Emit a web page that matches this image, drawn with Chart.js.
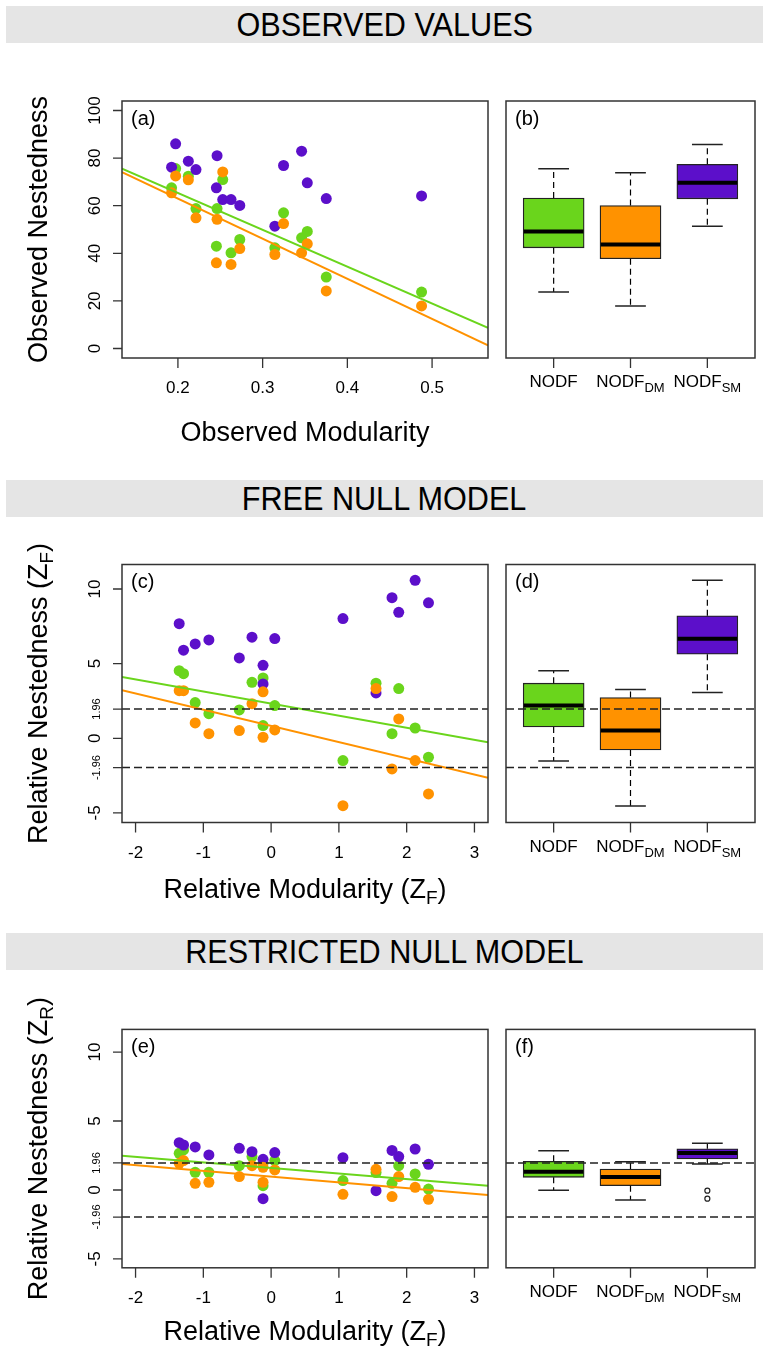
<!DOCTYPE html>
<html><head><meta charset="utf-8">
<script src="https://cdn.jsdelivr.net/npm/chart.js@4.4.1/dist/chart.umd.min.js"></script>
<style>
html,body{margin:0;padding:0;background:#fff;}
#wrap{position:relative;width:768px;height:1347px;overflow:hidden;background:#fff;}
canvas{position:absolute;left:0;top:0;}
.hdr{position:absolute;left:6px;width:757px;height:37px;background:#e5e5e5;display:flex;align-items:center;justify-content:center;}
.hdr span{font-family:"Liberation Sans",Arial,sans-serif;font-size:34px;color:#000;display:inline-block;transform:scaleX(0.9);line-height:37px;}
</style></head>
<body><div id="wrap">
<div class="hdr" style="top:6px"><span>OBSERVED VALUES</span></div>
<div class="hdr" style="top:480px"><span>FREE NULL MODEL</span></div>
<div class="hdr" style="top:933px"><span>RESTRICTED NULL MODEL</span></div>
</div>
<script>
// ---------------- DATA ----------------
// Panel (a): observed modularity vs observed nestedness (15 networks)
const obsModularity = [0.1925,0.1973,0.2123,0.2213,0.2454,0.2462,0.2529,0.2627,0.2730,0.3144,0.3247,0.3460,0.3527,0.3751,0.4876];
const obsNODF   = [67.5,75.6,72.4,58.8,43.0,58.8,71.0,40.2,45.8,42.3,57.0,46.5,49.2,30.0,23.7];
const obsNODFdm = [65.4,72.5,70.9,54.9,36.0,54.3,74.2,35.3,42.0,39.5,52.5,40.2,44.0,24.2,17.9];
const obsNODFsm = [76.2,86.0,78.7,75.2,67.5,81.0,62.6,62.6,60.1,51.4,76.9,82.9,69.6,63.0,64.1];
// fitted lines (a): values at the two x-limits
const fitXa = [0.134,0.566];
const fitNODFa = [75.6,8.7];
const fitNODFdmA = [74.1,1.3];

// Panel (c): free null model Z-scores
const relModF = [-1.356,-1.292,-1.120,-0.918,-0.469,-0.282,-0.119,-0.119,0.054,1.060,1.548,1.784,1.883,2.125,2.322];
const zfNODF   = [4.53,4.33,2.39,1.65,1.90,3.75,4.04,0.85,2.19,-1.49,3.69,0.31,3.33,0.69,-1.27];
const zfNODFdm = [3.19,3.19,1.03,0.31,0.52,2.32,3.11,0.07,0.56,-4.51,3.33,-2.05,1.30,-1.49,-3.73];
const zfNODFsm = [7.68,5.90,6.32,6.59,5.38,6.77,4.89,3.64,6.68,8.02,3.04,9.42,8.44,10.58,9.07];
const fitXz = [-2.2,3.2];
const fitNODFc = [4.11,-0.27];
const fitNODFdmC = [3.22,-2.65];

// Panel (e): restricted null model Z-scores
const zrNODF   = [2.66,2.90,1.28,1.28,1.76,2.42,0.31,1.93,2.13,0.68,1.26,0.48,1.76,1.16,0.07];
const zrNODFdm = [1.93,2.13,0.48,0.56,0.97,1.76,1.64,0.56,1.45,-0.31,1.50,-0.48,0.97,0.19,-0.68];
const zrNODFsm = [3.43,3.26,3.12,2.54,3.02,2.78,2.22,-0.63,2.71,2.34,-0.05,2.87,2.42,2.97,1.86];
const fitNODFe = [2.49,0.31];
const fitNODFdmE = [1.88,-0.36];

// Box plot statistics [lowWhisker, Q1, median, Q3, highWhisker] for NODF, NODF_DM, NODF_SM
const boxB = [[23.7,42.3,49.2,63.2,75.5],[17.8,37.7,43.7,60.1,73.8],[51.4,62.9,69.6,77.4,85.7]];
const boxD = [[-1.52,0.76,2.19,3.69,4.53],[-4.53,-0.78,0.52,2.73,3.26],[3.06,5.63,6.66,8.20,10.58]];
const boxF = [[-0.02,0.92,1.33,2.08,2.85],[-0.72,0.31,0.94,1.52,2.05],[1.88,2.25,2.68,2.99,3.38]];
const outliersF = [[],[],[-0.05,-0.63]];

// tick labels
const yTicksObs = [0,20,40,60,80,100];
const xTicksObs = [0.2,0.3,0.4,0.5];
const yTicksZ = [-5,0,5,10];
const yTicksCrit = [-1.96,1.96];
const xTicksZ = [-2,-1,0,1,2,3];
const boxCats = [['NODF',''],['NODF','DM'],['NODF','SM']];

// ---------------- STYLE / LAYOUT ----------------
const W=768,H=1347;
const COL=['#6AD51C','#FF9200','#5C0FCA'];
const FONT='"Liberation Sans", Arial, sans-serif';
const rows={a:{t:101,b:358},c:{t:564.5,b:822.5},e:{t:1029.4,b:1267.8}};
const SL=122,SR=488,BL=506,BR=755;

const wrap=document.getElementById('wrap');
function makeCtx(){const c=document.createElement('canvas');c.width=W;c.height=H;c.style.width=W+'px';c.style.height=H+'px';wrap.appendChild(c);return c.getContext('2d');}

function drawRich(ctx,parts,x,y,rot){
  ctx.save();ctx.translate(x,y);if(rot)ctx.rotate(rot);
  let tot=0;parts.forEach(p=>{ctx.font=p.s+'px '+FONT;p.w=ctx.measureText(p.t).width;tot+=p.w;});
  let cx=-tot/2;ctx.textAlign='left';ctx.textBaseline='alphabetic';ctx.fillStyle='#000';
  parts.forEach(p=>{ctx.font=p.s+'px '+FONT;ctx.fillText(p.t,cx,p.dy||0);cx+=p.w;});
  ctx.restore();
}

function axisPlugin(o){
  return {
    id:'ax',
    afterDatasetsDraw(chart){
      const ctx=chart.ctx,a=chart.chartArea,x=chart.scales.x,y=chart.scales.y;
      if(o.box){
        o.box.forEach((st,i)=>{
          const cx=x.getPixelForValue(i+1);
          const half=(x.getPixelForValue(1.4)-x.getPixelForValue(1));
          const cap=half/2;
          ctx.save();ctx.strokeStyle='#000';ctx.lineWidth=1.2;
          ctx.setLineDash([6,4]);
          ctx.beginPath();ctx.moveTo(cx,y.getPixelForValue(st[3]));ctx.lineTo(cx,y.getPixelForValue(st[4]));
          ctx.moveTo(cx,y.getPixelForValue(st[1]));ctx.lineTo(cx,y.getPixelForValue(st[0]));ctx.stroke();
          ctx.setLineDash([]);ctx.lineWidth=1.5;ctx.strokeStyle='#222';
          ctx.beginPath();
          [st[0],st[4]].forEach(v=>{const py=y.getPixelForValue(v);ctx.moveTo(cx-cap,py);ctx.lineTo(cx+cap,py);});
          ctx.stroke();
          ctx.lineWidth=4;ctx.strokeStyle='#000';ctx.beginPath();
          const pm=y.getPixelForValue(st[2]);ctx.moveTo(cx-half+1,pm);ctx.lineTo(cx+half-1,pm);ctx.stroke();
          ctx.restore();
        });
      }
      if(o.ref){
        ctx.save();ctx.strokeStyle='#222';ctx.lineWidth=1.4;ctx.setLineDash([8,4]);
        o.ref.forEach(v=>{const py=y.getPixelForValue(v);ctx.beginPath();ctx.moveTo(a.left,py);ctx.lineTo(a.right,py);ctx.stroke();});
        ctx.restore();
      }
    },
    afterDraw(chart){
      const ctx=chart.ctx,a=chart.chartArea,x=chart.scales.x,y=chart.scales.y;
      ctx.save();
      ctx.strokeStyle='#333';ctx.lineWidth=1.5;ctx.strokeRect(a.left,a.top,a.right-a.left,a.bottom-a.top);
      ctx.strokeStyle='#333';ctx.lineWidth=1.3;ctx.fillStyle='#000';
      // x ticks
      const xt=o.xTickPos;
      ctx.beginPath();xt.forEach(v=>{const px=x.getPixelForValue(v);ctx.moveTo(px,a.bottom);ctx.lineTo(px,a.bottom+10);});ctx.stroke();
      if(o.box){
        boxCats.forEach((c,i)=>{const px=x.getPixelForValue(i+1);
          const parts=[{t:c[0],s:17}];if(c[1])parts.push({t:c[1],s:13,dy:5});
          drawRich(ctx,parts,px,a.bottom+29,0);});
      } else {
        ctx.font='17px '+FONT;ctx.textAlign='center';ctx.textBaseline='alphabetic';
        xt.forEach(v=>{ctx.fillText(String(v),x.getPixelForValue(v),a.bottom+35);});
        // y ticks
        const yt=o.yTicks.concat(o.yCrit||[]);
        ctx.beginPath();yt.forEach(v=>{const py=y.getPixelForValue(v);ctx.moveTo(a.left-9,py);ctx.lineTo(a.left,py);});ctx.stroke();
        const lab=(v,size)=>{ctx.save();ctx.translate(a.left-22,y.getPixelForValue(v));ctx.rotate(-Math.PI/2);ctx.font=size+'px '+FONT;ctx.textAlign='center';ctx.textBaseline='alphabetic';ctx.fillText(String(v),0,0);ctx.restore();};
        o.yTicks.forEach(v=>lab(v,17));
        (o.yCrit||[]).forEach(v=>lab(v,11));
        drawRich(ctx,o.xTitle,(a.left+a.right)/2,a.bottom+o.xTitleDy,0);
        drawRich(ctx,o.yTitle,47,(a.top+a.bottom)/2,-Math.PI/2);
      }
      ctx.font='20px '+FONT;ctx.textAlign='left';ctx.textBaseline='middle';ctx.fillStyle='#000';
      ctx.fillText(o.tag,a.left+9,a.top+18);
      ctx.restore();
    }
  };
}

function pts(xs,ys){return xs.map((v,i)=>({x:v,y:ys[i]}));}

function scatterPanel(o){
  const r=o.row;
  const ds=[
    {type:'line',data:pts(o.fitX,o.fitG),borderColor:COL[0],borderWidth:2,pointRadius:0,order:0},
    {type:'line',data:pts(o.fitX,o.fitO),borderColor:COL[1],borderWidth:2,pointRadius:0,order:0},
    {type:'scatter',data:pts(o.xs,o.yo),backgroundColor:COL[1],borderWidth:0,pointRadius:5.5,order:1},
    {type:'scatter',data:pts(o.xs,o.yp),backgroundColor:COL[2],borderWidth:0,pointRadius:5.5,order:2},
    {type:'scatter',data:pts(o.xs,o.yg),backgroundColor:COL[0],borderWidth:0,pointRadius:5.5,order:3}
  ];
  new Chart(makeCtx(),{type:'scatter',data:{datasets:ds},options:{
    responsive:false,animation:false,devicePixelRatio:1,events:[],
    layout:{padding:{left:SL,top:r.t,right:W-SR,bottom:H-r.b}},
    plugins:{legend:{display:false},tooltip:{enabled:false}},
    scales:{x:{type:'linear',display:false,min:o.xmin,max:o.xmax},y:{type:'linear',display:false,min:o.ymin,max:o.ymax}}
  },plugins:[axisPlugin(o)]});
}

function boxPanel(o){
  const r=o.row;
  const ds=[{type:'bar',data:o.box.map((s,i)=>({x:i+1,y:[s[1],s[3]]})),backgroundColor:COL,borderColor:'#222',borderWidth:1.3,borderSkipped:false,barThickness:61,order:2}];
  if(o.out){o.out.forEach((arr,i)=>{if(arr.length)ds.push({type:'scatter',data:arr.map(v=>({x:i+1,y:v})),backgroundColor:'rgba(0,0,0,0)',borderColor:'#222',borderWidth:1.2,pointRadius:2.5,order:1});});}
  new Chart(makeCtx(),{type:'bar',data:{datasets:ds},options:{
    responsive:false,animation:false,devicePixelRatio:1,events:[],
    layout:{padding:{left:BL,top:r.t,right:W-BR,bottom:H-r.b}},
    plugins:{legend:{display:false},tooltip:{enabled:false}},
    scales:{x:{type:'linear',display:false,min:0.38,max:3.62,offset:false},y:{type:'linear',display:false,min:o.ymin,max:o.ymax}}
  },plugins:[axisPlugin(o)]});
}

const zT=(c)=>[{t:'Relative Nestedness (Z',s:27},{t:c,s:19,dy:6},{t:')',s:27}];
const zX=[{t:'Relative Modularity (Z',s:27},{t:'F',s:19,dy:6},{t:')',s:27}];

scatterPanel({tag:'(a)',row:rows.a,xs:obsModularity,yg:obsNODF,yo:obsNODFdm,yp:obsNODFsm,fitX:fitXa,fitG:fitNODFa,fitO:fitNODFdmA,
  xmin:0.134,xmax:0.566,ymin:-4,ymax:104,xTickPos:xTicksObs,yTicks:yTicksObs,xTitle:[{t:'Observed Modularity',s:27}],xTitleDy:83,yTitle:[{t:'Observed Nestedness',s:27}]});
boxPanel({tag:'(b)',row:rows.a,box:boxB,ymin:-4,ymax:104,xTickPos:[1,2,3]});

scatterPanel({tag:'(c)',row:rows.c,xs:relModF,yg:zfNODF,yo:zfNODFdm,yp:zfNODFsm,fitX:fitXz,fitG:fitNODFc,fitO:fitNODFdmC,
  xmin:-2.2,xmax:3.2,ymin:-5.64,ymax:11.64,xTickPos:xTicksZ,yTicks:yTicksZ,yCrit:yTicksCrit,ref:yTicksCrit,xTitle:zX,xTitleDy:75,yTitle:zT('F')});
boxPanel({tag:'(d)',row:rows.c,box:boxD,ymin:-5.64,ymax:11.64,xTickPos:[1,2,3],ref:yTicksCrit});

scatterPanel({tag:'(e)',row:rows.e,xs:relModF,yg:zrNODF,yo:zrNODFdm,yp:zrNODFsm,fitX:fitXz,fitG:fitNODFe,fitO:fitNODFdmE,
  xmin:-2.2,xmax:3.2,ymin:-5.64,ymax:11.64,xTickPos:xTicksZ,yTicks:yTicksZ,yCrit:yTicksCrit,ref:yTicksCrit,xTitle:zX,xTitleDy:72,yTitle:zT('R')});
boxPanel({tag:'(f)',row:rows.e,box:boxF,out:outliersF,ymin:-5.64,ymax:11.64,xTickPos:[1,2,3],ref:yTicksCrit});
</script>
</body></html>
